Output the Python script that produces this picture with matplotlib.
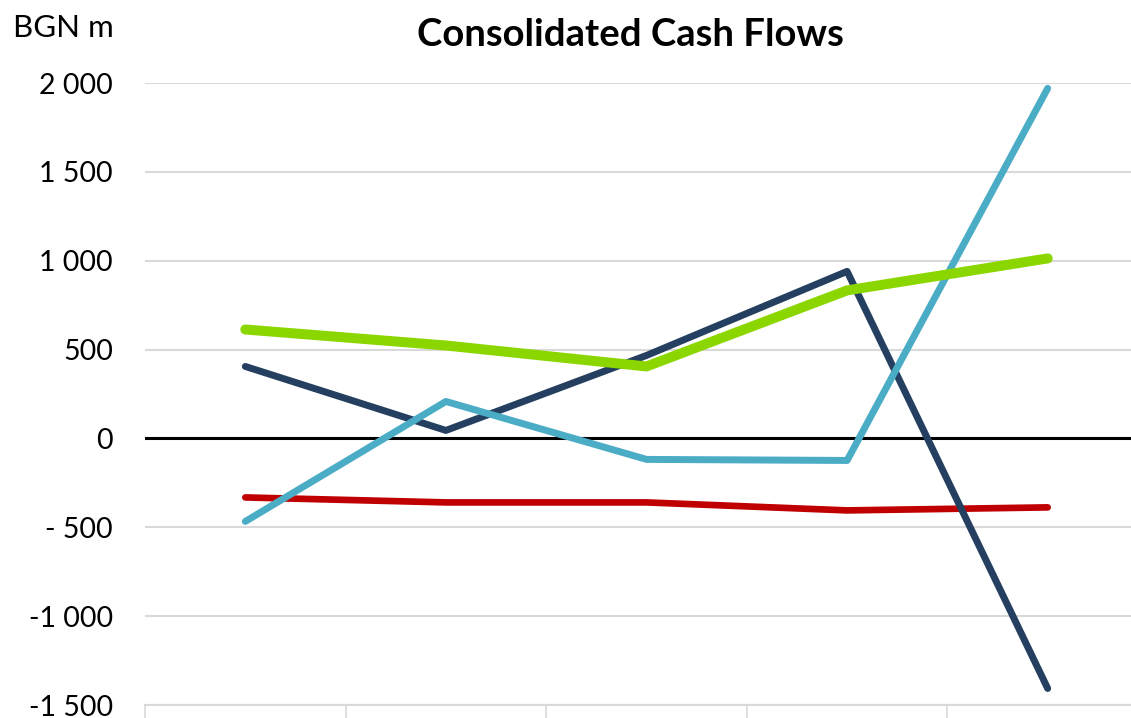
import numpy as np
import matplotlib
matplotlib.use('Agg')
import matplotlib.pyplot as plt

plt.rcParams['font.family'] = ['Lato', 'DejaVu Sans']

# values (BGN m), five periods
periods = [0, 1, 2, 3, 4]
operating = [405, 45, 467, 940, -1407]       # dark navy
investing = [-467, 208, -118, -124, 1970]    # light blue
financing = [613, 523, 405, 833, 1013]       # green
other = [-332, -360, -360, -405, -388]       # red

yticks = [-1500, -1000, -500, 0, 500, 1000, 1500, 2000]
ytick_labels = ['-1 500', '-1 000', '- 500', '0', '500', '1 000', '1 500', '2 000']

fig = plt.figure(figsize=(11.31, 7.18), dpi=100)
ax = fig.add_axes([145/1131, 1 - 705/718, 1003/1131, 622/718])

ax.plot(periods, other, color='#C00000', lw=4.8, solid_capstyle='round', zorder=3)
ax.plot(periods, operating, color='#243F60', lw=5.0, solid_capstyle='round', zorder=4)
ax.plot(periods, investing, color='#4BACC6', lw=5.0, solid_capstyle='round', zorder=5)
ax.plot(periods, financing, color='#8CD600', lw=7.2, solid_capstyle='round', zorder=6)

ax.axhline(0, color='black', lw=2.2, zorder=2)

ax.set_ylim(-1500, 2000)
ax.set_xlim(-0.5, 4.5)
ax.set_yticks(yticks)
ax.set_yticklabels(ytick_labels, fontsize=20.5)
ax.grid(axis='y', color='#D9D9D9', lw=1.5, zorder=1)
ax.set_axisbelow(True)

ax.set_xticks(np.arange(-0.5, 5, 1))
ax.set_xticklabels([])
ax.tick_params(axis='x', length=9, width=1.2, color='#D9D9D9', direction='out')
ax.tick_params(axis='y', length=0, pad=23)

for s in ['top', 'right', 'left']:
    ax.spines[s].set_visible(False)
ax.spines['bottom'].set_color('#D9D9D9')
ax.spines['bottom'].set_linewidth(1.5)

fig.text(630/1131, 1 - 35/718, 'Consolidated Cash Flows', ha='center', va='center',
         fontsize=27.5, fontweight='bold')
fig.text(13/1131, 1 - 28/718, 'BGN m', ha='left', va='center', fontsize=22.5)

fig.savefig('out.png', dpi=100)
